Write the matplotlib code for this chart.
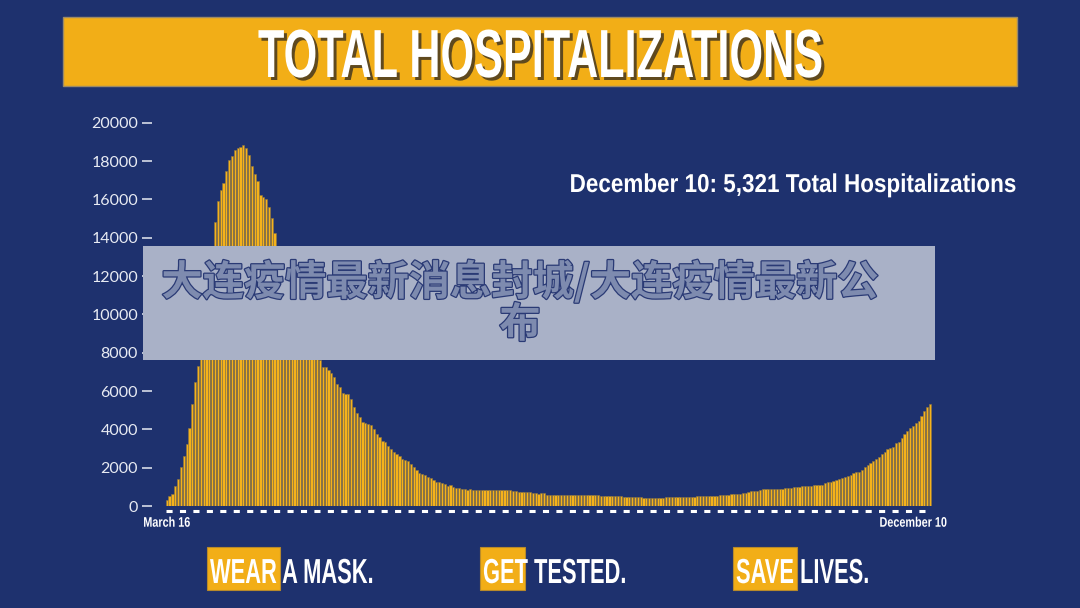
import matplotlib
matplotlib.use("Agg")
import matplotlib.pyplot as plt
import matplotlib.patheffects as pe
from matplotlib.colors import to_rgb
from matplotlib.patches import Rectangle
from matplotlib.transforms import Affine2D, ScaledTranslation, blended_transform_factory

# daily total hospitalizations, March 16 -> December 10
mar = [326, 496, 617, 1042, 1406, 2043, 2635, 3234, 4079, 5327, 6481, 7328, 8503, 9517, 10929, 12226]
apr = [13383, 14810, 15905, 16479, 16837, 17493, 18079, 18279, 18569, 18654, 18707, 18825, 18697, 18335,
       17735, 17316, 16967, 16213, 16103, 16044, 15599, 15021, 14258, 13524, 12839, 12646, 12159, 11598,
       11571, 10993]
may = [10350, 9786, 9647, 9179, 8665, 8196, 7903, 7776, 7600, 7268, 7234, 7077, 6955, 6712, 6381, 6208,
       5877, 5842, 5825, 5564, 5182, 4834, 4643, 4399, 4347, 4278, 4208, 4017, 3773, 3617, 3408]
jun = [3321, 3130, 2973, 2834, 2713, 2591, 2434, 2382, 2347, 2174, 2034, 1878, 1721, 1669, 1617, 1530,
       1461, 1356, 1269, 1250, 1190, 1130, 1060, 1096, 1009, 957, 957, 887, 870, 860]
jul = [870, 860, 850, 845, 840, 835, 835, 830, 835, 830, 825, 820, 815, 820, 810, 800, 760, 750, 745,
       740, 720, 715, 690, 660, 650, 660, 655, 600, 585, 580, 575]
aug = [575, 570, 575, 570, 565, 565, 560, 560, 555, 555, 550, 555, 555, 560, 550, 545, 540, 530, 515,
       510, 505, 500, 500, 495, 490, 495, 490, 485, 455, 450, 440]
sep = [440, 435, 435, 430, 440, 425, 430, 470, 480, 490, 485, 490, 485, 480, 490, 495, 490, 495, 500,
       510, 515, 520, 530, 535, 540, 545, 560, 575, 580, 600]
oct_ = [620, 640, 625, 620, 680, 700, 740, 760, 780, 800, 820, 870, 880, 880, 870, 885, 880, 900, 910,
        930, 960, 965, 975, 985, 1010, 1061, 1061, 1061, 1065, 1070, 1113]
nov = [1113, 1120, 1200, 1235, 1252, 1304, 1356, 1391, 1443, 1496, 1565, 1635, 1722, 1756, 1774, 1878,
       2017, 2139, 2260, 2330, 2452, 2573, 2712, 2834, 2956, 3043, 3078, 3269, 3356, 3530]
dec = [3756, 3930, 4052, 4191, 4313, 4434, 4700, 4974, 5148, 5321]

hosp = mar + apr + may + jun + jul + aug + sep + oct_ + nov + dec
days = list(range(len(hosp)))
x_labels = ["March 16", "December 10"]
y_ticks = list(range(0, 20001, 2000))

headline = "TOTAL HOSPITALIZATIONS"
callout = "December 10: 5,321 Total Hospitalizations"
overlay_text = "大连疫情最新消息封城/大连疫情最新公\n布"
slogans = ["WEAR A MASK.", "GET TESTED.", "SAVE LIVES."]

NAVY = "#1E316E"
GOLD = "#F2AE17"
W, H = 1080, 608


def fx(px):
    return px / W


def fy(py):
    return 1 - py / H


class Squeeze(pe.AbstractPathEffect):
    """Narrow glyphs around the text anchor -> condensed-font look (optionally as a shadow)."""

    def __init__(self, text, sx, offset=(0, 0), color=None, alpha=1.0):
        super().__init__()
        self.text, self.sx, self.off, self.color, self.alpha = text, sx, offset, color, alpha

    def draw_path(self, renderer, gc, tpath, affine, rgbFace=None):
        cx = self.text.get_transform().transform(self.text.get_position())[0]
        tr = affine + Affine2D().translate(-cx, 0).scale(self.sx, 1).translate(cx + self.off[0], self.off[1])
        if self.color is None:
            renderer.draw_path(gc, tpath, tr, rgbFace)
            return
        gc0 = renderer.new_gc()
        gc0.copy_properties(gc)
        gc0.set_foreground(self.color)
        gc0.set_alpha(self.alpha)
        renderer.draw_path(gc0, tpath, tr, to_rgb(self.color))
        gc0.restore()


def condense(t, sx, shadow=None):
    effects = [Squeeze(t, sx, offset=(3, -3), color=shadow, alpha=0.8)] if shadow else []
    t.set_path_effects(effects + [Squeeze(t, sx)])
    return t


fig = plt.figure(figsize=(10.8, 6.08), dpi=100, facecolor=NAVY)

# title banner
fig.add_artist(Rectangle((fx(63), fy(86)), fx(1017) - fx(63), fy(17) - fy(86), transform=fig.transFigure,
                         facecolor=GOLD, edgecolor="#9C8A66", linewidth=1))
condense(fig.text(fx(540), fy(77), headline, ha="center", va="baseline", fontsize=49, fontweight="bold",
                  family="Liberation Sans", color="white"), 0.635, shadow="#3A3020")

# bars
ax = fig.add_axes([fx(152), fy(506), fx(940) - fx(152), fy(122.7) - fy(506)])
ax.set_facecolor("none")
ax.bar(days, hosp, width=0.78, color="#F5B21B", edgecolor="#8B7645", linewidth=0.4)
ax.set_xlim(-5.2, 272.5)
ax.set_ylim(0, 20000)
ax.set_yticks(y_ticks)
ax.tick_params(axis="y", length=7.2, width=1.1, pad=2.9, color="#E8EBF3", labelcolor="#E8EBF3",
               labelsize=11.5)
for lbl in ax.get_yticklabels():
    lbl.set_family("Lato")
for s in ax.spines.values():
    s.set_visible(False)

ax.set_xticks([days[0], days[-1]], x_labels)
ax.tick_params(axis="x", length=0, pad=7, labelsize=10, labelcolor="white")
xl = ax.get_xticklabels()
for lbl in xl:
    lbl.set_fontweight("bold")
    lbl.set_family("Liberation Sans")
    condense(lbl, 0.78)
xl[-1].set_ha("right")
xl[-1].set_transform(xl[-1].get_transform() + ScaledTranslation(0.17, 0, fig.dpi_scale_trans))

# dashed baseline under the bars
ax.plot([days[0] - 0.3, days[-1] + 0.3], [-0.014, -0.014],
        transform=blended_transform_factory(ax.transData, ax.transAxes),
        color="white", linewidth=2.2, dashes=(2, 2.4), clip_on=False)

condense(fig.text(fx(1017), fy(192), callout, ha="right", va="baseline", fontsize=18.6, fontweight="bold",
                  family="Liberation Sans", color="white"), 0.87)

# slogans along the bottom: first word sits on a gold box
boxes = [(207, 280), (480, 525), (733, 797)]
for text, (b0, b1) in zip(slogans, boxes):
    fig.add_artist(Rectangle((fx(b0), fy(590)), fx(b1) - fx(b0), fy(547) - fy(590), transform=fig.transFigure,
                             facecolor=GOLD, edgecolor="#B88A2A", linewidth=0.8))
    condense(fig.text(fx(b0 + 3), fy(583), text, ha="left", va="baseline", fontsize=25,
                      fontweight="bold", family="Liberation Sans", color="white"), 0.63)

# watermark overlay
fig.add_artist(Rectangle((fx(143), fy(360)), fx(935) - fx(143), fy(246) - fy(360), transform=fig.transFigure,
                         facecolor="#A9B1C7", edgecolor="none", zorder=5))
fig.text(fx(520), fy(303), overlay_text, ha="center", va="center", multialignment="center", fontsize=29.7,
         fontweight="bold", family=["Noto Sans CJK SC", "DejaVu Sans"], color="#7E8BAF", linespacing=1.0,
         zorder=6, path_effects=[pe.withStroke(linewidth=1.8, foreground="#2A3A75")])

fig.savefig("out.png", dpi=100, facecolor=NAVY)
